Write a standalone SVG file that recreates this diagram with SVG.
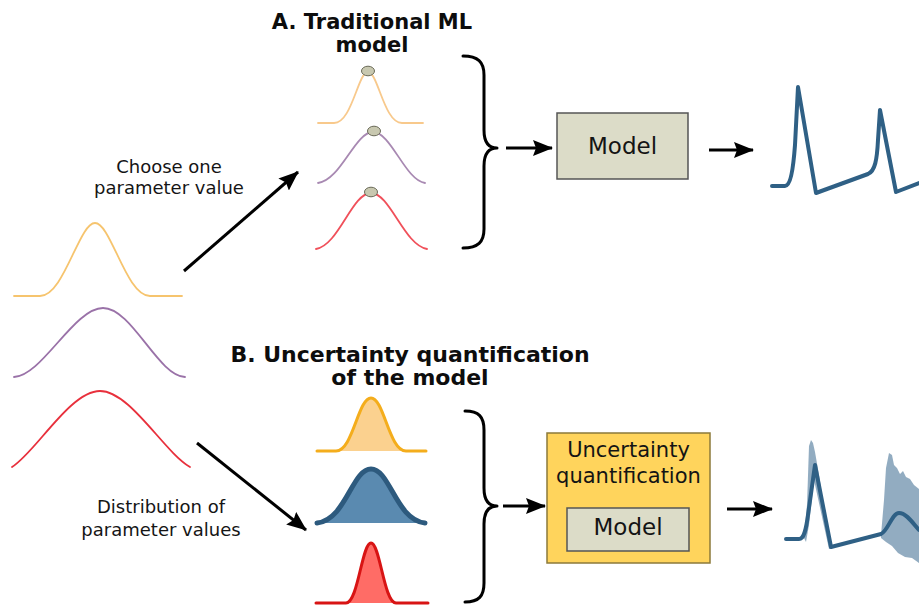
<svg xmlns="http://www.w3.org/2000/svg" width="919" height="607" viewBox="0 0 919 607">
  <style>
    .title { font-family: "DejaVu Sans", Verdana, sans-serif; font-weight: bold; fill: #0d0d0d; text-anchor: middle; }
    .label { font-family: "DejaVu Sans", Verdana, sans-serif; font-size: 18px; fill: #151515; text-anchor: middle; }
    .boxtext { font-family: "DejaVu Sans", Verdana, sans-serif; fill: #141414; text-anchor: middle; }
    .model { fill: #dcdcc8; stroke: #555; stroke-width: 1.5; }
    .brace { fill: none; stroke: #000; stroke-width: 3; stroke-linecap: round; stroke-linejoin: round; }
    .arrow { stroke: #000; stroke-width: 3; fill: none; marker-end: url(#head); }
    .curve { fill: none; stroke-width: 1.8; stroke-linecap: round; }
    .pick { fill: #c8c8b0; stroke: #6a6a58; stroke-width: 1; }
    .signal { fill: none; stroke: #2f6085; stroke-width: 4; stroke-linejoin: round; stroke-linecap: round; }
    .band { fill: #7f9db6; opacity: 0.85; }
  </style>
  <defs>
    <marker id="head" viewBox="0 0 20 16" markerWidth="20" markerHeight="16" refX="19" refY="8" orient="auto" markerUnits="userSpaceOnUse">
      <path d="M0,0 L20,8 L0,16 L3,8 Z" fill="#000"/>
    </marker>
  </defs>

  <rect width="919" height="607" fill="#fff"/>

  <!-- Section titles -->
  <g id="title-a">
    <text class="title" x="372" y="29" font-size="21">A. Traditional ML</text>
    <text class="title" x="372" y="52" font-size="21">model</text>
  </g>
  <g id="title-b">
    <text class="title" x="410" y="362" font-size="22">B. Uncertainty quantification</text>
    <text class="title" x="410" y="385" font-size="22">of the model</text>
  </g>

  <!-- Input parameter distributions -->
  <g id="input-distributions">
    <path class="curve" stroke="#f6c46e" d="M14,296 L40,296 C64,296 79,223 95,223 C111,223 126,296 150,296 L182,296"/>
    <path class="curve" stroke="#9a72a8" d="M14,377 C42,376 74,308 103,308 C132,308 158,376 185,377"/>
    <path class="curve" stroke="#e8303c" d="M12,467 C36,452 70,391 100,391 C130,391 164,452 190,467"/>
  </g>

  <g id="label-choose">
    <text class="label" x="169" y="173">Choose one</text>
    <text class="label" x="169" y="194">parameter value</text>
  </g>
  <g id="label-distribution">
    <text class="label" x="161" y="513">Distribution of</text>
    <text class="label" x="161" y="536">parameter values</text>
  </g>

  <!-- A: single chosen values -->
  <g id="point-estimates">
    <path class="curve" stroke="#f8c98c" d="M318,123 L334,123 C352,123 358,72 368,72 C378,72 384,123 402,123 L423,123"/>
    <path class="curve" stroke="#a889b2" d="M318,183 C341,180 355,132 373,132 C391,132 405,180 425,183"/>
    <path class="curve" stroke="#f0505a" d="M316,249 C339,245 352,193 371,193 C390,193 404,245 427,249"/>
    <ellipse class="pick" cx="368" cy="71" rx="6.5" ry="4.8"/>
    <ellipse class="pick" cx="374" cy="131" rx="6.5" ry="4.8"/>
    <ellipse class="pick" cx="371" cy="192" rx="6.5" ry="4.8"/>
  </g>

  <!-- B: full distributions -->
  <g id="distributions">
    <path d="M317,451 L336,451 C353,451 358,398 371,398 C384,398 389,451 406,451 L426,451" fill="#fbd18f" stroke="#f4ad1c" stroke-width="3" stroke-linecap="round"/>
    <path d="M317,523 C346,520 352,469 371,469 C390,469 396,520 425,523" fill="#5a8ab0" stroke="#2d5a7e" stroke-width="5" stroke-linecap="round"/>
    <path d="M316,603 L346,603 C358,603 362,543 371,543 C380,543 384,603 396,603 L428,603" fill="#ff6c66" stroke="#d81414" stroke-width="3" stroke-linecap="round"/>
  </g>

  <g id="brace-a">
    <path class="brace" d="M463,56 C478,56 484,62 484,75 L484,130 C484,142 488,148 497,148 C488,148 484,154 484,166 L484,229 C484,242 478,248 463,248"/>
  </g>
  <g id="brace-b">
    <path class="brace" d="M465,411 C479,411 484,417 484,430 L484,488 C484,500 488,506 497,506 C488,506 484,512 484,524 L484,583 C484,596 479,602 465,602"/>
  </g>

  <g id="model-a">
    <rect class="model" x="557" y="113" width="131" height="66"/>
    <text class="boxtext" x="622.5" y="154" font-size="23">Model</text>
  </g>

  <g id="uq-box">
    <rect x="547" y="433" width="163" height="130" fill="#ffd45c" stroke="#8c7a3a" stroke-width="1.5"/>
    <text class="boxtext" x="628.5" y="457" font-size="21">Uncertainty</text>
    <text class="boxtext" x="628.5" y="483" font-size="21">quantification</text>
    <g id="model-b">
      <rect class="model" x="567" y="508" width="122" height="43"/>
      <text class="boxtext" x="628" y="535" font-size="23">Model</text>
    </g>
  </g>

  <!-- Model outputs -->
  <g id="output-a">
    <path class="signal" d="M772,186 L785,186 C790,186 793,172 795,145 L798,87 L816,193 L868,174 C875,171 877,160 878,140 L880,110 L896,192 L919,183"/>
  </g>
  <g id="output-b">
    <path class="band" d="M804,538 L807,505 L809,446 L811,440 L813,443 L815,452 L819,475 L829,540 L833,548 L829,549 L814,480 L809,525 L806,542 Z"/>
    <path class="band" d="M881,535 L884,500 L886,468 L889,453 L892,455 L894,465 L897,468 L900,474 L903,471 L906,477 L910,479 L914,485 L919,489 L919,563 L912,558 L905,557 L898,553 L892,546 L886,542 L881,538 Z"/>
    <path class="signal" d="M786,539 L799,539 C804,539 806,530 808,515 L815,465 L831,547 L881,534 C888,531 892,513 899,513 C906,513 912,522 919,530"/>
  </g>

  <g id="connectors">
    <line class="arrow" x1="184" y1="271" x2="298" y2="172"/>
    <line class="arrow" x1="197" y1="443" x2="306" y2="530"/>
    <line class="arrow" x1="506" y1="148" x2="552" y2="148"/>
    <line class="arrow" x1="709" y1="150" x2="753" y2="150"/>
    <line class="arrow" x1="503" y1="506" x2="545" y2="506"/>
    <line class="arrow" x1="727" y1="509" x2="772" y2="509"/>
  </g>
</svg>
